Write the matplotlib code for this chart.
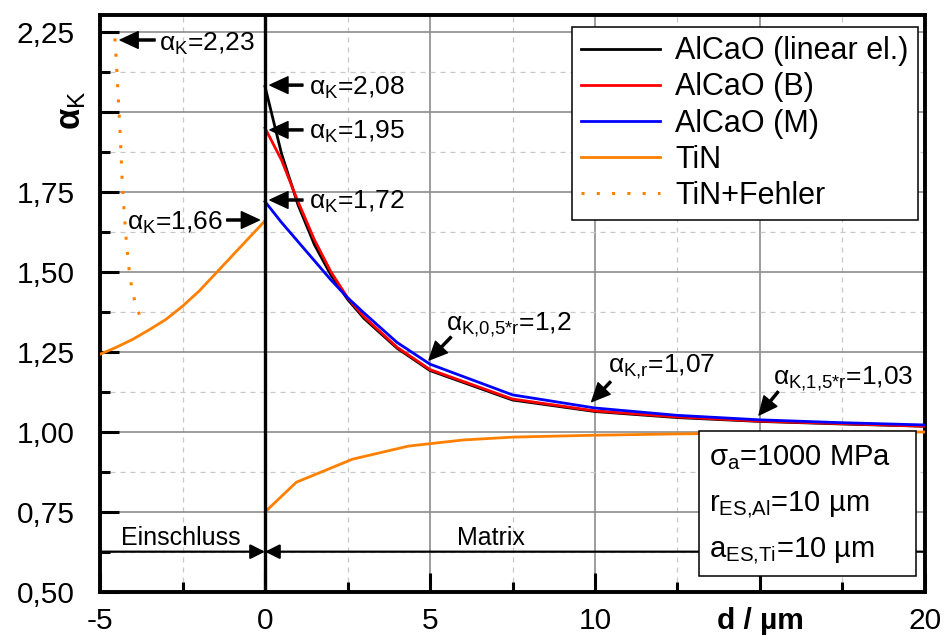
"""Stress concentration factor alpha_K over distance d from the inclusion."""
import matplotlib
matplotlib.use('Agg')
import matplotlib.pyplot as plt
from matplotlib.ticker import MultipleLocator, FixedLocator, FixedFormatter
from matplotlib.patches import Rectangle

plt.rcParams['font.family'] = ['Liberation Sans', 'DejaVu Sans']
plt.rcParams['mathtext.fontset'] = 'custom'
plt.rcParams['mathtext.rm'] = 'Liberation Sans'
plt.rcParams['mathtext.it'] = 'Liberation Sans:italic'
plt.rcParams['mathtext.bf'] = 'Liberation Sans:bold'
plt.rcParams['mathtext.default'] = 'regular'

# AlCaO inclusion, matrix side
d_alcao = [0, 0.5, 1, 1.5, 2, 2.5, 3, 4, 5, 7.5, 10, 12.5, 15, 17.5, 20]
ak_linear = [2.08, 1.87, 1.71, 1.585, 1.49, 1.415, 1.355, 1.262, 1.192, 1.100,
             1.064, 1.045, 1.033, 1.025, 1.018]
ak_b = [1.95, 1.85, 1.72, 1.60, 1.50, 1.42, 1.36, 1.265, 1.195, 1.103,
        1.066, 1.047, 1.034, 1.026, 1.018]
ak_m = [1.72, 1.655, 1.595, 1.535, 1.475, 1.42, 1.372, 1.28, 1.212, 1.116,
        1.075, 1.052, 1.038, 1.029, 1.022]

# TiN inclusion: inside the inclusion and in the matrix
d_tin_in = [-5, -4.5, -4, -3.5, -3, -2.5, -2, -1.5, -1, -0.5, 0]
ak_tin_in = [1.243, 1.265, 1.29, 1.32, 1.352, 1.393, 1.44, 1.495, 1.55, 1.605, 1.66]
d_tin_mat = [0, 0.95, 2.65, 4.35, 6.0, 7.5, 10, 12.5, 15, 17.5, 20]
ak_tin_mat = [0.75, 0.843, 0.915, 0.956, 0.975, 0.984, 0.990, 0.994, 0.997, 0.999, 1.0]

# TiN with defect
d_tin_err = [-4.55, -4.49, -4.39, -4.33, -4.27, -4.2, -4.11, -4.04, -3.94, -3.79]
ak_tin_err = [2.23, 2.13, 1.934, 1.79, 1.69, 1.594, 1.5, 1.453, 1.406, 1.362]

x_ticks = [-5, 0, 5, 10, 15, 20]
x_labels = ['-5', '0', '5', '10', 'd / µm', '20']
y_ticks = [0.5, 0.75, 1.0, 1.25, 1.5, 1.75, 2.0, 2.25]
y_labels = ['0,50', '0,75', '1,00', '1,25', '1,50', '1,75', '', '2,25']

ORANGE = '#ff8000'

fig = plt.figure(figsize=(9.44, 6.42), dpi=100)
ax = fig.add_axes([100 / 944, 50 / 642, 825 / 944, 577 / 642])
ax.set_xlim(-5, 20)
ax.set_ylim(0.5, 0.5 + 577 / 320)

ax.plot(d_alcao, ak_linear, color='k', lw=2.0, label='AlCaO (linear el.)', zorder=4)
ax.plot(d_alcao, ak_b, color='#ff0000', lw=2.0, label='AlCaO (B)', zorder=4)
ax.plot(d_alcao, ak_m, color='#0000ff', lw=2.0, label='AlCaO (M)', zorder=4)
ax.plot(d_tin_in, ak_tin_in, color=ORANGE, lw=2.0, label='TiN', zorder=4)
ax.plot(d_tin_mat, ak_tin_mat, color=ORANGE, lw=2.0, zorder=4)
ax.plot(d_tin_err, ak_tin_err, color=ORANGE, lw=2.2, ls=(0, (1, 4)),
        label='TiN+Fehler', zorder=4)

ax.axvline(0, color='k', lw=2.4, zorder=5)

# axes styling
ax.xaxis.set_major_locator(FixedLocator(x_ticks))
ax.xaxis.set_major_formatter(FixedFormatter(x_labels))
ax.xaxis.set_minor_locator(MultipleLocator(2.5))
ax.yaxis.set_major_locator(FixedLocator(y_ticks))
ax.yaxis.set_major_formatter(FixedFormatter(y_labels))
ax.yaxis.set_minor_locator(MultipleLocator(0.125))
ax.tick_params(which='both', direction='in', width=2.2, top=False, right=False,
               labelsize=21.5)
ax.tick_params(which='major', length=14)
ax.tick_params(which='minor', length=7)
ax.tick_params(axis='y', pad=18)
ax.tick_params(axis='x', pad=11)
ax.get_xticklabels()[4].set_fontweight('bold')
for s in ax.spines.values():
    s.set_linewidth(2.8)

ax.set_axisbelow(True)
ax.grid(which='major', color='#8c8c8c', lw=1.2, ls='-')
ax.grid(which='minor', color='#c8c8c8', lw=0.9, ls=(0, (4, 4)))

fig.text(72 / 944, 1 - 110 / 642, r'$\mathbf{\alpha}_K$', rotation=90,
         fontsize=25, ha='center', va='center')

# annotations with arrows
arrow = dict(facecolor='k', edgecolor='k', width=1.5, headwidth=12,
             headlength=13, shrink=0)
FS = 19

ax.annotate('', xy=(-4.39, 2.225), xytext=(-3.33, 2.225), arrowprops=arrow, zorder=6)
ax.text(-3.2, 2.19, r'$\alpha_K$=2,23', fontsize=FS, va='baseline', zorder=6)

ax.annotate('', xy=(0.15, 2.084), xytext=(1.15, 2.084), arrowprops=arrow, zorder=6)
ax.text(1.33, 2.053, r'$\alpha_K$=2,08', fontsize=FS, va='baseline', zorder=6)

ax.annotate('', xy=(0.15, 1.944), xytext=(1.15, 1.944), arrowprops=arrow, zorder=6)
ax.text(1.33, 1.916, r'$\alpha_K$=1,95', fontsize=FS, va='baseline', zorder=6)

ax.annotate('', xy=(0.15, 1.725), xytext=(1.15, 1.725), arrowprops=arrow, zorder=6)
ax.text(1.33, 1.697, r'$\alpha_K$=1,72', fontsize=FS, va='baseline', zorder=6)

ax.annotate('', xy=(-0.17, 1.6625), xytext=(-1.16, 1.6625), arrowprops=arrow, zorder=6)
ax.text(-1.28, 1.631, r'$\alpha_K$=1,66', fontsize=FS, va='baseline', ha='right', zorder=6)

ax.annotate('', xy=(4.97, 1.225), xytext=(5.64, 1.297), arrowprops=arrow, zorder=6)
ax.text(5.49, 1.319, r'$\alpha_{K{,}0{,}5{*}r}$=1,2', fontsize=FS, va='baseline', zorder=6)

ax.annotate('', xy=(9.90, 1.095), xytext=(10.47, 1.157), arrowprops=arrow, zorder=6)
ax.text(10.39, 1.185, r'$\alpha_{K{,}r}$=1,07', fontsize=FS, va='baseline', zorder=6)

ax.annotate('', xy=(14.97, 1.053), xytext=(15.55, 1.126), arrowprops=arrow, zorder=6)
ax.text(15.4, 1.15, r'$\alpha_{K{,}1{,}5{*}r}$=1,03', fontsize=FS, va='baseline', zorder=6)

# inclusion / matrix marker
ax.annotate('', xy=(0, 0.626), xytext=(-5, 0.626),
            arrowprops=dict(arrowstyle='-|>', color='k', lw=1.6, mutation_scale=22,
                            shrinkA=0, shrinkB=0), zorder=6)
ax.annotate('', xy=(0, 0.626), xytext=(20, 0.626),
            arrowprops=dict(arrowstyle='-|>', color='k', lw=1.6, mutation_scale=22,
                            shrinkA=0, shrinkB=0), zorder=6)
ax.text(-2.56, 0.647, 'Einschluss', fontsize=18, ha='center', va='baseline', zorder=6)
ax.text(6.84, 0.647, 'Matrix', fontsize=18, ha='center', va='baseline', zorder=6)

# parameter box
ax.add_patch(Rectangle((13.15, 0.55), 19.72 - 13.15, 1.004 - 0.55, facecolor='white',
                       edgecolor='k', lw=1.1, zorder=7))
ax.text(13.46, 0.895, r'$\sigma_a$=1000 MPa', fontsize=21, va='baseline', zorder=8)
ax.text(13.46, 0.751, r'$r_{ES{,}Al}$=10 µm', fontsize=21, va='baseline', zorder=8)
ax.text(13.46, 0.608, r'$a_{ES{,}Ti}$=10 µm', fontsize=21, va='baseline', zorder=8)

leg = ax.legend(loc='upper right', bbox_to_anchor=(0.9915, 0.979), borderaxespad=0,
                fontsize=22, frameon=True, fancybox=False, edgecolor='k', framealpha=1,
                handlelength=2.6, labelspacing=0.2, borderpad=0.3, handletextpad=0.5)
leg.get_frame().set_linewidth(1.1)
leg.set_zorder(9)

fig.savefig('out.png', dpi=100)
